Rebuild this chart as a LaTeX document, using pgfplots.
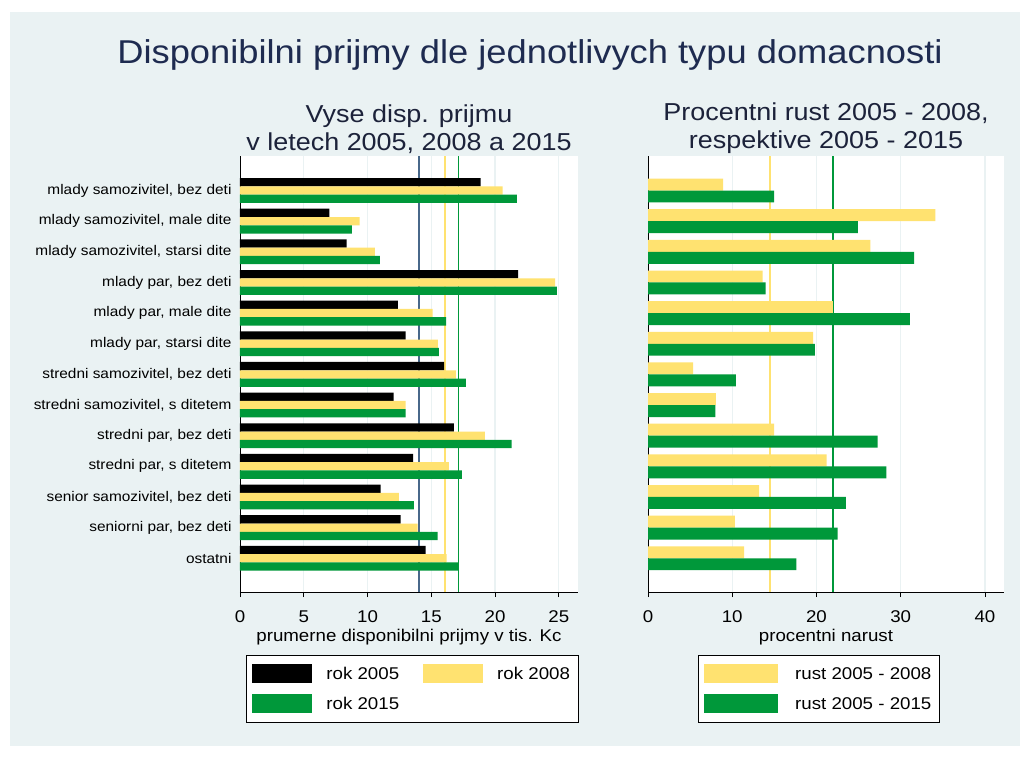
\documentclass[border=0pt]{standalone}
\usepackage{pgfplots}
\pgfplotsset{compat=1.18}
\usepackage{pgfplotstable}
\usepackage{fontspec}
\setmainfont{Liberation Sans}[FakeStretch=1.1]

\definecolor{bgc}{RGB}{234,242,243}
\definecolor{gridc}{RGB}{234,242,243}
\definecolor{ttl}{RGB}{30,43,80}
\definecolor{sttl}{RGB}{28,34,58}
\definecolor{ylw}{RGB}{255,226,112}
\definecolor{grn}{RGB}{0,152,58}
\definecolor{stl}{RGB}{72,104,138}

% prijmy v tis. Kc
\pgfplotstableread{
row y05 y08 y15
1 18.86 20.60 21.70
2 7.00 9.38 8.78
3 8.36 10.58 10.97
4 21.80 24.70 24.84
5 12.38 15.10 16.17
6 12.98 15.52 15.60
7 16.00 16.93 17.71
8 12.04 12.98 12.98
9 16.77 19.20 21.29
10 13.58 16.38 17.40
11 11.02 12.46 13.64
12 12.59 13.92 15.49
13 14.55 16.20 17.14
}\prijmy

% procentni rust
\pgfplotstableread{
row g08 g15
1 8.93 14.96
2 34.10 24.90
3 26.40 31.60
4 13.60 13.97
5 21.95 31.08
6 19.60 19.80
7 5.36 10.44
8 8.06 8.00
9 14.96 27.27
10 21.20 28.30
11 13.20 23.50
12 10.30 22.50
13 11.40 17.60
}\rust

\pgfplotsset{
  panel/.style={
    scale only axis,
    height=436pt,
    y dir=reverse,
    ymin=-0.126, ymax=14.10,
    xmin=0,
    axis background/.style={fill=white},
    separate axis lines,
    axis x line*=bottom,
    axis y line*=left,
    axis line style={-,black,line width=0.8pt},
    xmajorgrids,
    grid style={gridc,line width=1.2pt},
    tick align=outside,
    major tick length=5pt,
    xtick style={black,line width=0.8pt},
    ytick style={draw=none},
    /pgf/number format/assume math mode=true,
    ticklabel style={font=\fontsize{17}{17}\selectfont,text=black},
    xticklabel style={yshift=-10pt},
    xlabel style={font=\fontsize{17}{17}\selectfont,text=black,yshift=0pt},
    title style={font=\fontsize{24.5}{27.5}\selectfont,text=sttl,align=center,yshift=-7pt},
    xbar,
    legend style={
      anchor=north west, draw=black, line width=0.7pt, fill=white,
      font=\fontsize{17}{17}\selectfont,
      inner xsep=6pt, inner ysep=9pt,
      row sep=11pt,
      /tikz/every even column/.append style={column sep=22pt},
    },
    legend cell align=left,
  }
}

\begin{document}
\begin{tikzpicture}[x=1pt,y=1pt]
\fill[white] (0,0) rectangle (1029,758);
\fill[bgc] (10,12) rectangle (1020,746);
\node[font=\fontsize{33}{33}\selectfont,text=ttl] at (530,703) {Disponibilni prijmy dle jednotlivych typu domacnosti};

\begin{axis}[panel,
  at={(240pt,166pt)}, anchor=south west,
  width=338pt,
  xmax=26.5,
  xtick={0,5,10,15,20,25},
  ytick={1,...,13},
  yticklabels={{mlady samozivitel, bez deti}, {mlady samozivitel, male dite}, {mlady samozivitel, starsi dite}, {mlady par, bez deti}, {mlady par, male dite}, {mlady par, starsi dite}, {stredni samozivitel, bez deti}, {stredni samozivitel, s ditetem}, {stredni par, bez deti}, {stredni par, s ditetem}, {senior samozivitel, bez deti}, {seniorni par, bez deti}, {ostatni}},
  yticklabel style={font=\fontsize{14}{14}\selectfont,text=black},
  xlabel={prumerne disponibilni prijmy v tis. Kc},
  title={Vyse disp. prijmu\\v letech 2005, 2008 a 2015},
  bar width=0.27,
  legend columns=2,
  legend style={at={(axis description cs:0.018,-0.1445)},
    /tikz/every odd column/.append style={column sep=12pt}},
  legend image code/.code={\fill[#1] (0pt,-9.5pt) rectangle (60pt,9.5pt);},
]
\addplot[forget plot,draw=stl,line width=1.2pt,sharp plot] coordinates {(14.03,-0.126) (14.03,14.1)};
\addplot[forget plot,draw=ylw,line width=1.2pt,sharp plot] coordinates {(16.07,-0.126) (16.07,14.1)};
\addplot[forget plot,draw=grn,line width=1.2pt,sharp plot] coordinates {(17.10,-0.126) (17.10,14.1)};
\addplot[fill=black,draw=none,bar shift=-0.27] table[x=y05,y=row] {\prijmy};
\addlegendentry{rok 2005}
\addplot[fill=ylw,draw=none,bar shift=0] table[x=y08,y=row] {\prijmy};
\addlegendentry{rok 2008}
\addplot[fill=grn,draw=none,bar shift=0.27] table[x=y15,y=row] {\prijmy};
\addlegendentry{rok 2015}
\end{axis}

\begin{axis}[panel,
  at={(648pt,166pt)}, anchor=south west,
  width=356pt,
  xmax=42.26,
  xtick={0,10,20,30,40},
  ytick=\empty,
  xlabel={procentni narust},
  title={Procentni rust 2005 - 2008,\\respektive 2005 - 2015},
  bar width=0.39,
  legend columns=1,
  legend style={at={(axis description cs:0.14,-0.1445)},
    /tikz/every odd column/.append style={column sep=15pt}},
  legend image code/.code={\fill[#1] (2pt,-9.5pt) rectangle (76pt,9.5pt);},
]
\addplot[forget plot,draw=ylw,line width=1.2pt,sharp plot] coordinates {(14.49,-0.126) (14.49,14.1)};
\addplot[forget plot,draw=grn,line width=1.2pt,sharp plot] coordinates {(21.95,-0.126) (21.95,14.1)};
\addplot[fill=ylw,draw=none,bar shift=-0.195] table[x=g08,y=row] {\rust};
\addlegendentry{rust 2005 - 2008\hspace{18pt}}
\addplot[fill=grn,draw=none,bar shift=0.195] table[x=g15,y=row] {\rust};
\addlegendentry{rust 2005 - 2015\hspace{18pt}}
\end{axis}
\end{tikzpicture}
\end{document}
